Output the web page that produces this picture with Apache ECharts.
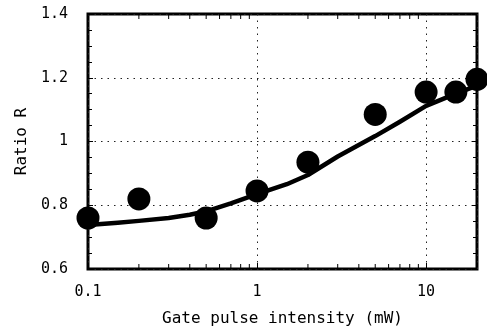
<!DOCTYPE html>
<html>
<head>
<meta charset="utf-8">
<script src="https://cdn.jsdelivr.net/npm/echarts@6/dist/echarts.min.js"></script>
<style>
html,body{margin:0;padding:0;background:#fff;}
#chart{width:487px;height:332px;}
</style>
</head>
<body>
<div id="chart"></div>
<script>
// Measured points
const powerMW = [0.1, 0.2, 0.5, 1, 2, 5, 10, 15, 20];
const ratioR = [0.76, 0.82, 0.76, 0.845, 0.935, 1.085, 1.155, 1.155, 1.195];
// Fitted curve
const fitPower = [0.1, 0.15, 0.2, 0.3, 0.4, 0.5, 0.7, 1, 1.5, 2, 3, 5, 7, 10, 15, 20];
const fitRatio = [0.738, 0.745, 0.751, 0.760, 0.770, 0.781, 0.806, 0.835, 0.866, 0.895, 0.953, 1.017, 1.062, 1.112, 1.150, 1.175];
// Axis labels
const xTickLabels = ['0.1', '1', '10'];
const yTickLabels = ['0.6', '0.8', '1', '1.2', '1.4'];
// Minor tick positions of the log axis (2..9 of each decade)
const xMinorTicks = [0.2, 0.3, 0.4, 0.5, 0.6, 0.7, 0.8, 0.9, 2, 3, 4, 5, 6, 7, 8, 9];

const FONT = 'DejaVu Sans Mono';
const chart = echarts.init(document.getElementById('chart'), null, {renderer: 'canvas'});

const dotted = {color: '#222', width: 1, type: [1.5, 5]};

function xLabelFmt(v) {
  for (const s of xTickLabels) { if (Math.abs(parseFloat(s) - v) < 1e-9) return s; }
  return '';
}
function yLabelFmt(v) {
  for (const s of yTickLabels) { if (Math.abs(parseFloat(s) - v) < 1e-9) return s; }
  return '';
}

const option = {
  animation: false,
  backgroundColor: '#fff',
  grid: {left: 88, right: 10, top: 14, bottom: 62, show: true, borderColor: '#000', borderWidth: 3},
  xAxis: [{
    type: 'log', logBase: 10, min: 0.1, max: 20, position: 'bottom',
    axisLine: {show: false},
    axisTick: {show: true, inside: true, length: 6, lineStyle: {color: '#000', width: 1}},
    splitLine: {show: true, lineStyle: dotted},
    axisLabel: {formatter: xLabelFmt, showMaxLabel: false, fontFamily: FONT, fontSize: 15, color: '#000', margin: 16},
    name: 'Gate pulse intensity (mW)', nameLocation: 'middle', nameGap: 42,
    nameTextStyle: {fontFamily: FONT, fontSize: 16, color: '#000'}
  }],
  yAxis: [{
    type: 'value', min: 0.6, max: 1.4, interval: 0.2, position: 'left',
    axisLine: {show: false},
    axisTick: {show: true, inside: true, length: 5, lineStyle: {color: '#000', width: 1}},
    minorTick: {show: true, splitNumber: 4, length: 4, lineStyle: {color: '#000'}},
    splitLine: {show: true, lineStyle: dotted},
    axisLabel: {formatter: yLabelFmt, fontFamily: FONT, fontSize: 15, color: '#000', margin: 20},
    name: 'Ratio R', nameLocation: 'middle', nameGap: 58, nameRotate: 90,
    nameTextStyle: {fontFamily: FONT, fontSize: 16, color: '#000'}
  }, {
    type: 'value', min: 0.6, max: 1.4, interval: 0.2, position: 'right',
    axisLine: {show: false},
    axisTick: {show: true, inside: true, length: 5, lineStyle: {color: '#000', width: 1}},
    minorTick: {show: true, splitNumber: 4, length: 4, lineStyle: {color: '#000'}},
    splitLine: {show: false},
    axisLabel: {show: false}
  }],
  series: [{
    type: 'custom', name: 'minorTicks', xAxisIndex: 0, yAxisIndex: 0,
    data: xMinorTicks.map(v => [v]),
    silent: true, z: 1,
    renderItem: function (params, api) {
      const x = api.value(0);
      const bottom = api.coord([x, 0.6]);
      const top = api.coord([x, 1.4]);
      const style = {stroke: '#000', lineWidth: 1};
      return {type: 'group', children: [
        {type: 'line', shape: {x1: bottom[0], y1: bottom[1], x2: bottom[0], y2: bottom[1] - 5}, style: style},
        {type: 'line', shape: {x1: top[0], y1: top[1], x2: top[0], y2: top[1] + 5}, style: style}
      ]};
    }
  }, {
    type: 'line', name: 'fit', xAxisIndex: 0, yAxisIndex: 0,
    data: fitPower.map((x, i) => [x, fitRatio[i]]),
    smooth: false, showSymbol: false, symbol: 'none',
    lineStyle: {color: '#000', width: 4.5, join: 'round', cap: 'round'}, z: 3
  }, {
    type: 'scatter', name: 'data', xAxisIndex: 0, yAxisIndex: 0,
    data: powerMW.map((x, i) => [x, ratioR[i]]),
    symbol: 'circle', symbolSize: 23,
    itemStyle: {color: '#000', opacity: 1}, z: 4, clip: false
  }]
};
chart.setOption(option);
</script>
</body>
</html>
